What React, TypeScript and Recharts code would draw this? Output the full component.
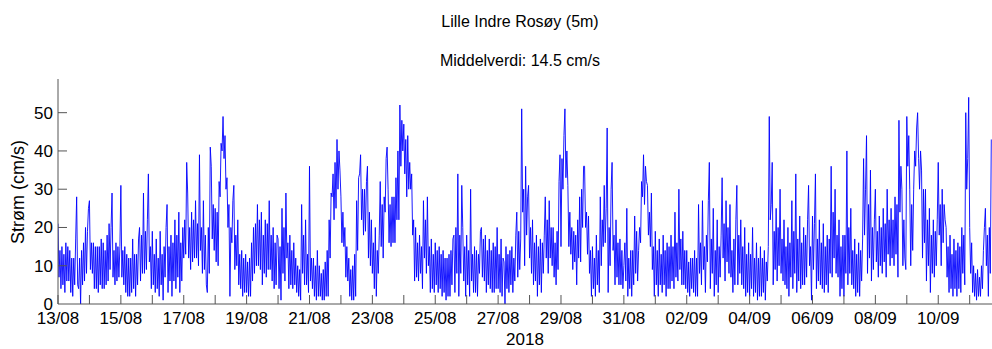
import React from 'react';
import { LineChart, Line, XAxis, YAxis } from 'recharts';

const titleText = 'Lille Indre Rosøy (5m)';
const subtitleText = 'Middelverdi: 14.5 cm/s';
const yAxisLabel = 'Strøm (cm/s)';
const yearLabel = '2018';

const dayLabels = [
  '13/08', '14/08', '15/08', '16/08', '17/08', '18/08', '19/08', '20/08', '21/08', '22/08',
  '23/08', '24/08', '25/08', '26/08', '27/08', '28/08', '29/08', '30/08', '31/08', '01/09',
  '02/09', '03/09', '04/09', '05/09', '06/09', '07/09', '08/09', '09/09', '10/09', '11/09',
];
const yTicks = [0, 10, 20, 30, 40, 50];

// current speed (cm/s), 45 min steps, one array per day
const d13_08 = [21, 7, 14, 4, 15, 5, 13, 3, 16, 6, 15, 6, 14, 3, 12, 2, 12, 5, 17, 28, 5, 4, 12, 0, 14, 5, 16, 6, 20, 8, 19, 25];
const d14_08 = [27, 9, 16, 8, 16, 4, 15, 4, 15, 3, 15, 5, 17, 4, 16, 4, 14, 5, 18, 6, 21, 9, 20, 29, 7, 14, 5, 16, 6, 15, 7, 15];
const d15_08 = [31, 7, 14, 5, 15, 3, 13, 2, 12, 2, 12, 3, 17, 4, 13, 2, 13, 5, 17, 20, 6, 18, 8, 29, 8, 19, 9, 22, 34, 11, 15, 4];
const d16_08 = [19, 5, 13, 3, 17, 4, 12, 2, 19, 5, 13, 1, 15, 7, 20, 26, 3, 15, 6, 18, 2, 16, 6, 22, 4, 18, 7, 24, 3, 16, 6, 20];
const d17_08 = [12, 22, 13, 37, 29, 12, 20, 9, 24, 11, 22, 12, 27, 12, 21, 10, 39, 14, 20, 8, 27, 9, 18, 5, 3, 20, 8, 41, 36, 17, 26, 14];
const d18_08 = [25, 11, 24, 10, 32, 28, 42, 40, 49, 38, 44, 30, 33, 20, 26, 2, 20, 16, 27, 31, 9, 18, 10, 22, 5, 13, 4, 14, 2, 12, 3, 13];
const d19_08 = [3, 11, 2, 12, 2, 16, 6, 20, 8, 21, 10, 26, 10, 22, 9, 24, 5, 18, 8, 22, 7, 21, 9, 27, 9, 18, 6, 20, 4, 16, 5, 18];
const d20_08 = [17, 4, 15, 1, 25, 8, 20, 6, 29, 12, 16, 4, 18, 5, 14, 4, 16, 5, 12, 3, 10, 2, 9, 1, 26, 8, 18, 5, 22, 5, 13, 3];
const d21_08 = [36, 6, 12, 4, 12, 2, 10, 1, 14, 2, 10, 2, 8, 1, 9, 1, 11, 2, 14, 2, 22, 12, 29, 28, 34, 22, 37, 25, 43, 30, 40, 35];
const d22_08 = [28, 16, 24, 15, 20, 7, 15, 6, 12, 2, 9, 1, 10, 1, 13, 2, 27, 14, 33, 34, 39, 22, 30, 18, 30, 19, 32, 36, 12, 24, 10, 22];
const d23_08 = [8, 16, 4, 20, 2, 14, 8, 18, 32, 15, 26, 12, 28, 24, 38, 41, 30, 16, 26, 15, 28, 16, 28, 16, 33, 22, 40, 22, 52, 36, 48, 40];
const d24_08 = [47, 34, 43, 28, 44, 30, 37, 30, 34, 18, 22, 6, 20, 7, 16, 6, 18, 8, 15, 4, 27, 12, 22, 8, 28, 10, 15, 3, 17, 4, 13, 3];
const d25_08 = [16, 5, 14, 3, 15, 4, 13, 2, 14, 3, 12, 1, 12, 2, 13, 2, 14, 5, 17, 18, 3, 20, 8, 34, 2, 18, 8, 31, 20, 6, 15, 2];
const d26_08 = [18, 5, 14, 2, 30, 6, 13, 3, 15, 3, 14, 2, 13, 8, 19, 20, 7, 17, 6, 18, 3, 14, 5, 17, 4, 14, 3, 16, 3, 15, 4, 20];
const d27_08 = [4, 13, 3, 17, 2, 12, 11, 0, 15, 4, 13, 3, 14, 5, 15, 3, 12, 6, 18, 24, 7, 19, 9, 17, 51, 24, 30, 10, 36, 18, 28, 31];
const d28_08 = [12, 20, 8, 22, 5, 16, 6, 18, 2, 15, 5, 17, 3, 16, 8, 18, 28, 12, 22, 8, 27, 12, 20, 10, 20, 7, 16, 5, 19, 9, 32, 39];
const d29_08 = [15, 38, 30, 44, 51, 33, 40, 31, 15, 24, 13, 20, 9, 19, 11, 18, 5, 22, 12, 28, 11, 30, 20, 36, 36, 20, 24, 13, 23, 8, 14, 2];
const d30_08 = [15, 4, 12, 2, 18, 5, 14, 3, 28, 10, 22, 15, 31, 16, 25, 46, 3, 20, 10, 30, 37, 14, 18, 5, 22, 7, 16, 5, 17, 5, 14, 4];
const d31_08 = [10, 16, 6, 25, 2, 12, 4, 14, 2, 14, 5, 23, 8, 19, 6, 14, 20, 16, 32, 28, 39, 26, 36, 32, 31, 18, 24, 15, 29, 9, 15, 2];
const d01_09 = [19, 5, 14, 2, 17, 5, 13, 3, 18, 5, 14, 2, 16, 4, 15, 4, 18, 6, 15, 4, 24, 7, 16, 6, 30, 9, 17, 5, 19, 5, 14, 4];
const d02_09 = [14, 3, 11, 2, 12, 4, 12, 3, 14, 2, 12, 2, 26, 8, 16, 5, 27, 9, 15, 3, 18, 11, 27, 37, 4, 17, 8, 25, 2, 14, 5, 22];
const d03_09 = [3, 15, 7, 18, 33, 12, 21, 6, 27, 11, 20, 8, 26, 7, 14, 3, 17, 5, 22, 31, 5, 18, 8, 22, 5, 15, 4, 20, 2, 13, 3, 16];
const d04_09 = [2, 13, 4, 20, 2, 12, 3, 16, 1, 12, 2, 15, 2, 12, 3, 14, 1, 11, 6, 15, 49, 22, 26, 37, 5, 19, 9, 25, 6, 20, 10, 30];
const d05_09 = [8, 17, 6, 22, 5, 15, 4, 20, 2, 16, 7, 27, 4, 19, 8, 34, 3, 17, 6, 23, 4, 16, 5, 20, 5, 18, 7, 22, 31, 10, 15, 1];
const d06_09 = [23, 9, 21, 34, 4, 17, 6, 22, 5, 16, 4, 21, 3, 15, 5, 18, 3, 17, 8, 36, 7, 24, 12, 30, 8, 18, 7, 22, 2, 15, 4, 18];
const d07_09 = [2, 18, 8, 40, 5, 20, 8, 25, 5, 14, 4, 17, 2, 13, 3, 16, 2, 14, 6, 17, 38, 18, 30, 44, 8, 26, 12, 35, 6, 20, 9, 22];
const d08_09 = [30, 11, 19, 7, 23, 10, 20, 8, 25, 11, 21, 7, 30, 13, 22, 10, 25, 12, 22, 10, 28, 13, 26, 7, 48, 24, 36, 30, 10, 22, 12, 9];
const d09_09 = [49, 36, 44, 30, 10, 26, 14, 30, 40, 36, 46, 50, 38, 30, 40, 35, 12, 30, 16, 30, 6, 22, 10, 25, 3, 18, 8, 22, 7, 19, 10, 22];
const d10_09 = [37, 18, 26, 10, 30, 16, 26, 22, 20, 7, 15, 3, 18, 4, 13, 2, 17, 4, 14, 2, 16, 4, 15, 3, 20, 8, 18, 5, 50, 30, 38, 54];
const d11_09 = [20, 8, 16, 3, 10, 2, 8, 1, 9, 2, 7, 2, 10, 4, 14, 20, 25, 10, 18, 2, 20, 8, 43];

const days = [
  d13_08, d14_08, d15_08, d16_08, d17_08, d18_08, d19_08, d20_08, d21_08, d22_08,
  d23_08, d24_08, d25_08, d26_08, d27_08, d28_08, d29_08, d30_08, d31_08, d01_09,
  d02_09, d03_09, d04_09, d05_09, d06_09, d07_09, d08_09, d09_09, d10_09, d11_09,
];
const STEPS_PER_DAY = 32;

const data: { t: number; v: number }[] = [];
days.forEach((arr, d) => {
  arr.forEach((v, i) => data.push({ t: d + i / STEPS_PER_DAY, v }));
});

const FONT = '"Liberation Sans", Arial, Helvetica, sans-serif';
const AXIS_COLOR = '#555';
const dayTicks = dayLabels.map((_, i) => i);

const XTick = (props: any) => {
  const { x, y, payload } = props;
  const d = payload.value as number;
  return (
    <g>
      <line x1={x} y1={y} x2={x} y2={y - 9} stroke={AXIS_COLOR} strokeWidth={1} />
      {d % 2 === 0 && (
        <text x={x} y={y + 20} textAnchor="middle" fontSize={17} fill="#000" fontFamily={FONT}>
          {dayLabels[d]}
        </text>
      )}
    </g>
  );
};

const YTick = (props: any) => {
  const { x, y, payload } = props;
  return (
    <g>
      {payload.value !== 0 && (
        <line x1={x} y1={y} x2={x + 9} y2={y} stroke={AXIS_COLOR} strokeWidth={1} />
      )}
      <text x={x - 5} y={y + 6} textAnchor="end" fontSize={17} fill="#000" fontFamily={FONT}>
        {payload.value}
      </text>
    </g>
  );
};

export default function App() {
  return (
    <div style={{ position: 'absolute', left: 0, top: 0, width: 992, height: 349, background: '#fff', overflow: 'hidden' }}>
      <LineChart
        width={992}
        height={349}
        data={data}
        margin={{ top: 79, right: 0, bottom: 0, left: 0 }}
      >
        <XAxis
          dataKey="t"
          type="number"
          domain={[0, 29.71]}
          ticks={dayTicks}
          interval={0}
          allowDataOverflow
          height={45}
          tickLine={false}
          tickSize={0}
          tickMargin={0}
          axisLine={{ stroke: AXIS_COLOR }}
          tick={<XTick />}
        />
        <YAxis
          type="number"
          domain={[0, 58.8]}
          ticks={yTicks}
          interval={0}
          allowDataOverflow
          width={58}
          tickLine={false}
          tickSize={0}
          tickMargin={0}
          axisLine={{ stroke: AXIS_COLOR }}
          tick={<YTick />}
        />
        <Line
          type="linear"
          dataKey="v"
          stroke="#0000ff"
          strokeWidth={0.9}
          dot={false}
          activeDot={false}
          isAnimationActive={false}
        />
      </LineChart>
      <svg width={992} height={349} style={{ position: 'absolute', left: 0, top: 0, pointerEvents: 'none' }}>
        <text x={520} y={27} textAnchor="middle" fontSize={16} fill="#000" fontFamily={FONT}>
          {titleText}
        </text>
        <text x={520} y={66} textAnchor="middle" fontSize={16} fill="#000" fontFamily={FONT}>
          {subtitleText}
        </text>
        <text
          x={24}
          y={192}
          textAnchor="middle"
          fontSize={18}
          fill="#000"
          fontFamily={FONT}
          transform="rotate(-90 24 192)"
        >
          {yAxisLabel}
        </text>
        <text x={525} y={345} textAnchor="middle" fontSize={17} fill="#000" fontFamily={FONT}>
          {yearLabel}
        </text>
      </svg>
    </div>
  );
}
